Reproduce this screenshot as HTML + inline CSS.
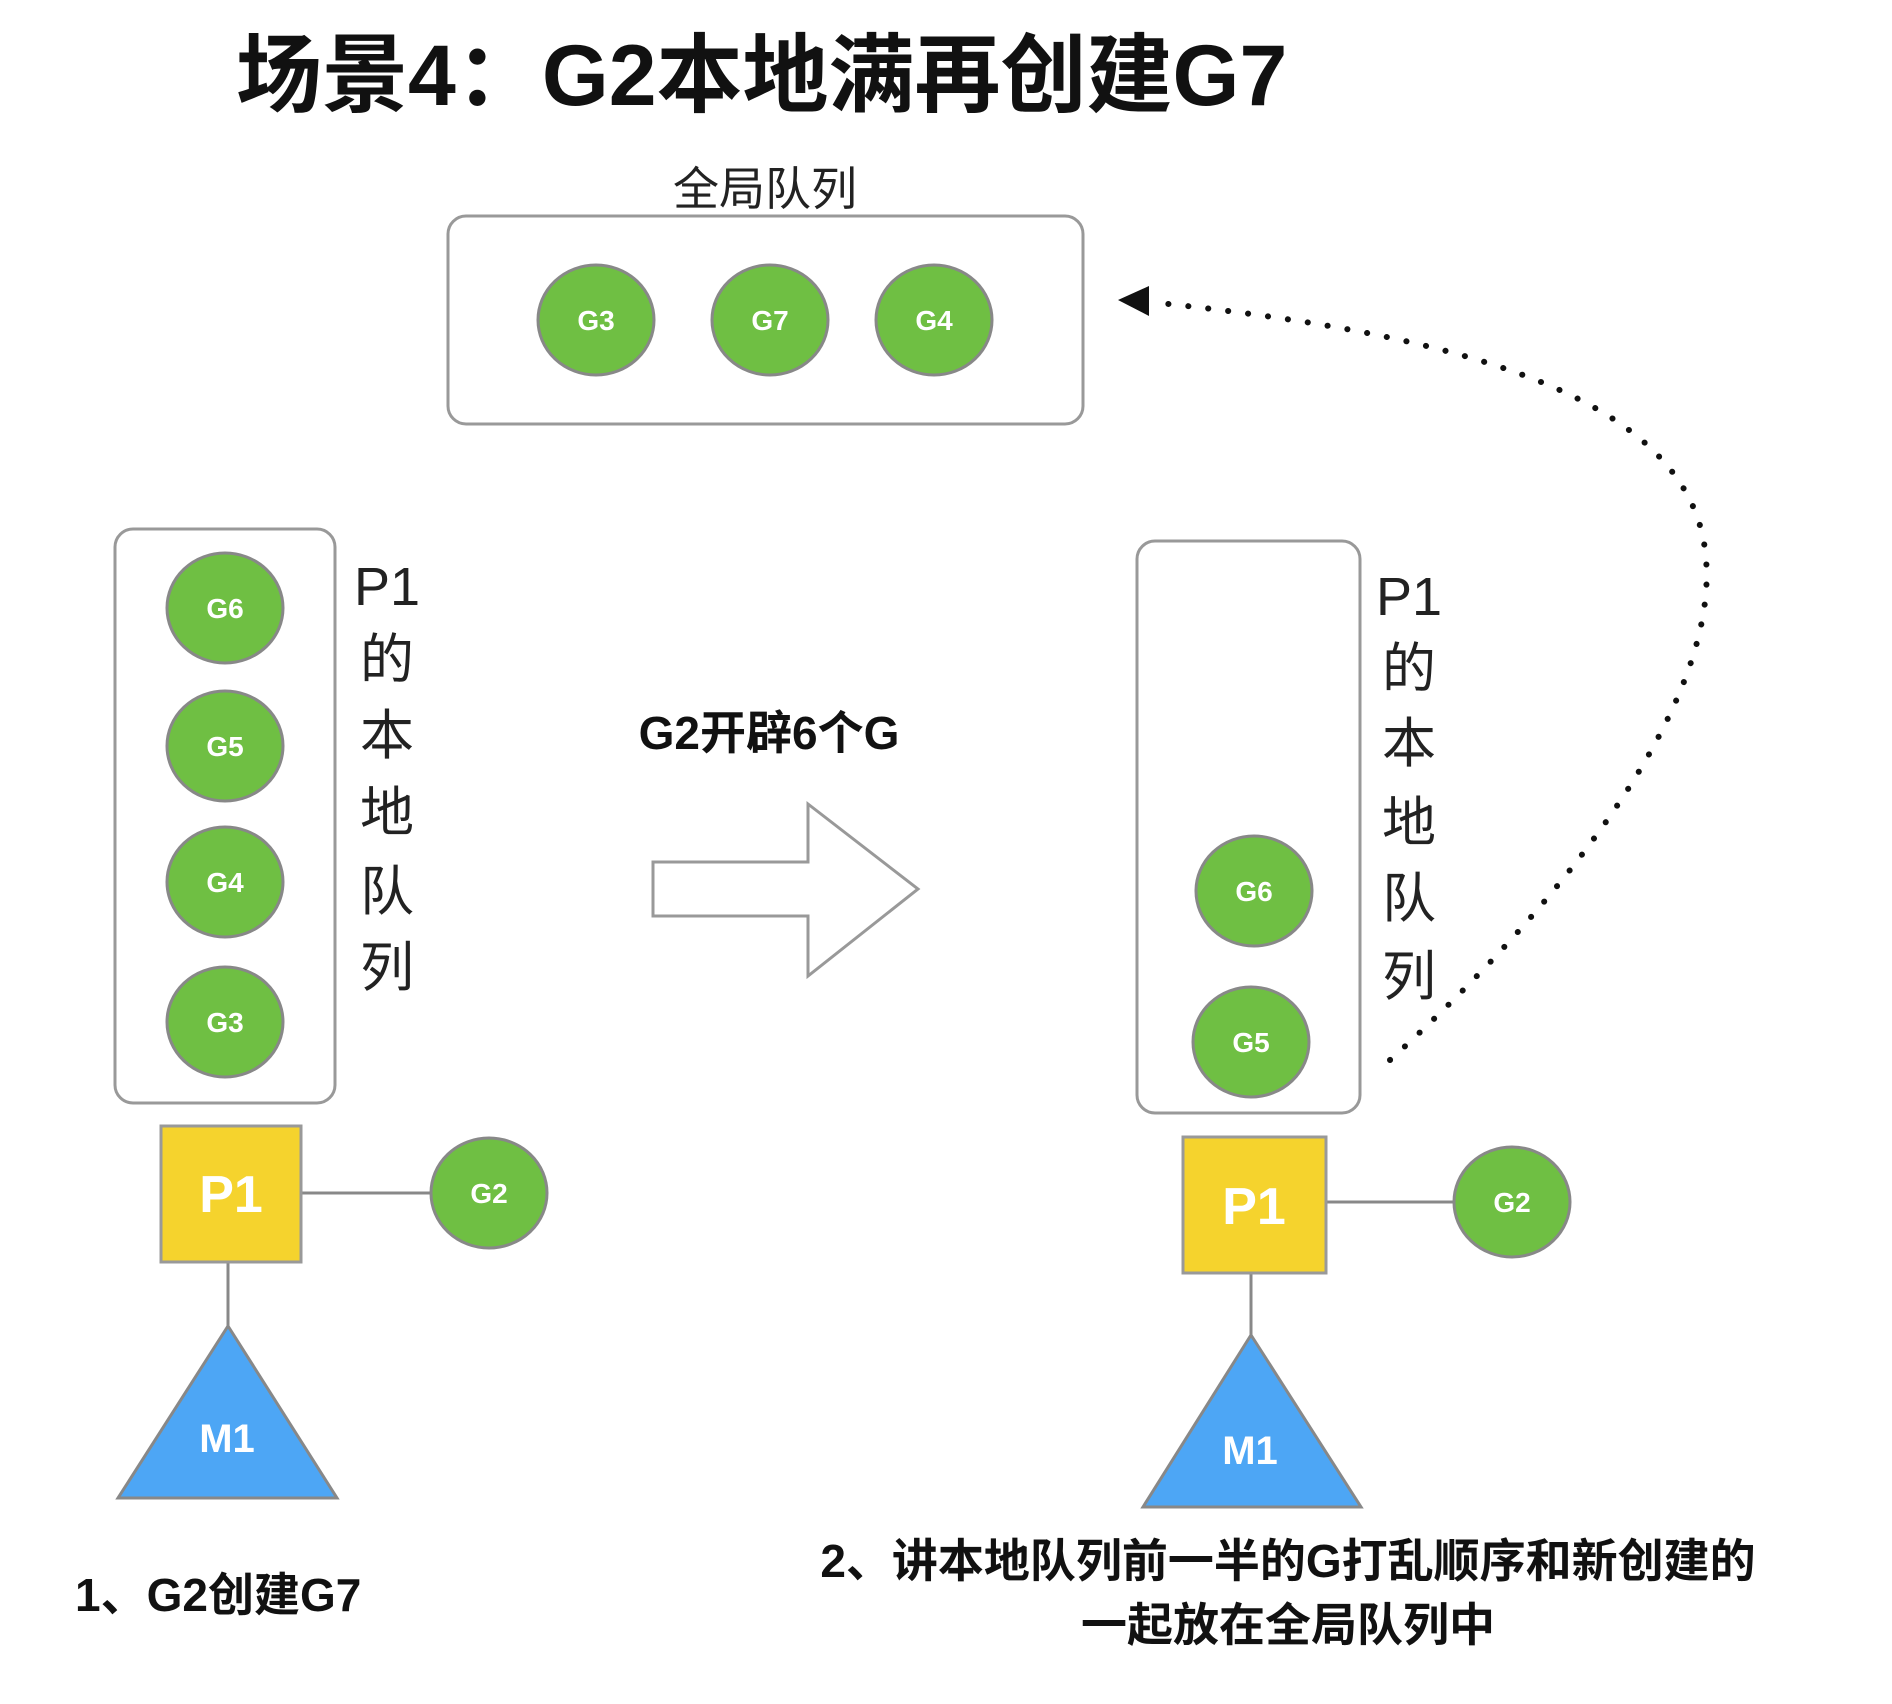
<!DOCTYPE html>
<html><head><meta charset="utf-8"><style>
html,body{margin:0;padding:0;background:#fff;}
svg{display:block;}
text{font-family:"Liberation Sans","Noto Sans CJK SC",sans-serif;}
</style></head><body>
<svg width="1892" height="1704" viewBox="0 0 1892 1704" xmlns="http://www.w3.org/2000/svg">
<text x="236" y="105" font-size="86" font-weight="bold" fill="#111">场景4：G2本地满再创建G7</text>
<text x="765" y="205" font-size="46" fill="#222" text-anchor="middle">全局队列</text>
<rect x="448" y="216" width="635" height="208" rx="18" fill="#fff" stroke="#999" stroke-width="3"/>
<g stroke="#888" stroke-width="3" fill="#6fbf43">
<ellipse cx="596" cy="320" rx="58" ry="55"/>
<ellipse cx="770" cy="320" rx="58" ry="55"/>
<ellipse cx="934" cy="320" rx="58" ry="55"/>
</g>
<g font-size="28" font-weight="bold" fill="#fff" text-anchor="middle">
<text x="596" y="330">G3</text><text x="770" y="330">G7</text><text x="934" y="330">G4</text>
</g>
<rect x="115" y="529" width="220" height="574" rx="18" fill="#fff" stroke="#999" stroke-width="3"/>
<g stroke="#888" stroke-width="3" fill="#6fbf43">
<ellipse cx="225" cy="608" rx="58" ry="55"/>
<ellipse cx="225" cy="746" rx="58" ry="55"/>
<ellipse cx="225" cy="882" rx="58" ry="55"/>
<ellipse cx="225" cy="1022" rx="58" ry="55"/>
<ellipse cx="489" cy="1193" rx="58" ry="55"/>
<ellipse cx="1254" cy="891" rx="58" ry="55"/>
<ellipse cx="1251" cy="1042" rx="58" ry="55"/>
<ellipse cx="1512" cy="1202" rx="58" ry="55"/>
</g>
<g font-size="28" font-weight="bold" fill="#fff" text-anchor="middle">
<text x="225" y="618">G6</text><text x="225" y="756">G5</text><text x="225" y="892">G4</text><text x="225" y="1032">G3</text>
<text x="489" y="1203">G2</text>
<text x="1254" y="901">G6</text><text x="1251" y="1052">G5</text><text x="1512" y="1212">G2</text>
</g>
<g font-size="54" fill="#222" text-anchor="middle">
<text x="387" y="605">P1</text><text x="387" y="678">的</text><text x="387" y="754">本</text><text x="387" y="831">地</text><text x="387" y="910">队</text><text x="387" y="986">列</text>
<text x="1409" y="615">P1</text><text x="1409" y="687">的</text><text x="1409" y="762">本</text><text x="1409" y="841">地</text><text x="1409" y="917">队</text><text x="1409" y="995">列</text>
</g>
<g stroke="#888" stroke-width="3">
<line x1="301" y1="1193" x2="431" y2="1193"/>
<line x1="228" y1="1262" x2="228" y2="1326"/>
<line x1="1326" y1="1202" x2="1454" y2="1202"/>
<line x1="1251" y1="1273" x2="1251" y2="1335"/>
</g>
<rect x="161" y="1126" width="140" height="136" fill="#f5d32d" stroke="#999" stroke-width="3"/>
<rect x="1183" y="1137" width="143" height="136" fill="#f5d32d" stroke="#999" stroke-width="3"/>
<g font-size="52" font-weight="bold" fill="#fff" text-anchor="middle">
<text x="231" y="1212">P1</text><text x="1254" y="1224">P1</text>
</g>
<polygon points="228,1326 337,1498 118,1498" fill="#4da6f5" stroke="#888" stroke-width="3"/>
<polygon points="1251,1335 1361,1507 1143,1507" fill="#4da6f5" stroke="#888" stroke-width="3"/>
<g font-size="40" font-weight="bold" fill="#fff" text-anchor="middle">
<text x="227" y="1452">M1</text><text x="1250" y="1464">M1</text>
</g>
<text x="75" y="1611" font-size="46" font-weight="bold" fill="#111">1、G2创建G7</text>
<text x="769" y="749" font-size="46" font-weight="bold" fill="#111" text-anchor="middle">G2开辟6个G</text>
<polygon points="653,862 808,862 808,804 918,889 808,976 808,916 653,916" fill="#fff" stroke="#999" stroke-width="3"/>
<rect x="1137" y="541" width="223" height="572" rx="18" fill="none" stroke="#999" stroke-width="3"/>
<path d="M1390,1060 C1600,870 1760,640 1690,500 C1630,380 1420,330 1150,302" fill="none" stroke="#111" stroke-width="6" stroke-linecap="round" stroke-dasharray="0.1 20"/>
<polygon points="1118,300 1149,286 1149,316" fill="#111"/>
<g font-size="46" font-weight="bold" fill="#111" text-anchor="middle">
<text x="1288" y="1577">2、讲本地队列前一半的G打乱顺序和新创建的</text>
<text x="1288" y="1641">一起放在全局队列中</text>
</g>
</svg>
</body></html>
